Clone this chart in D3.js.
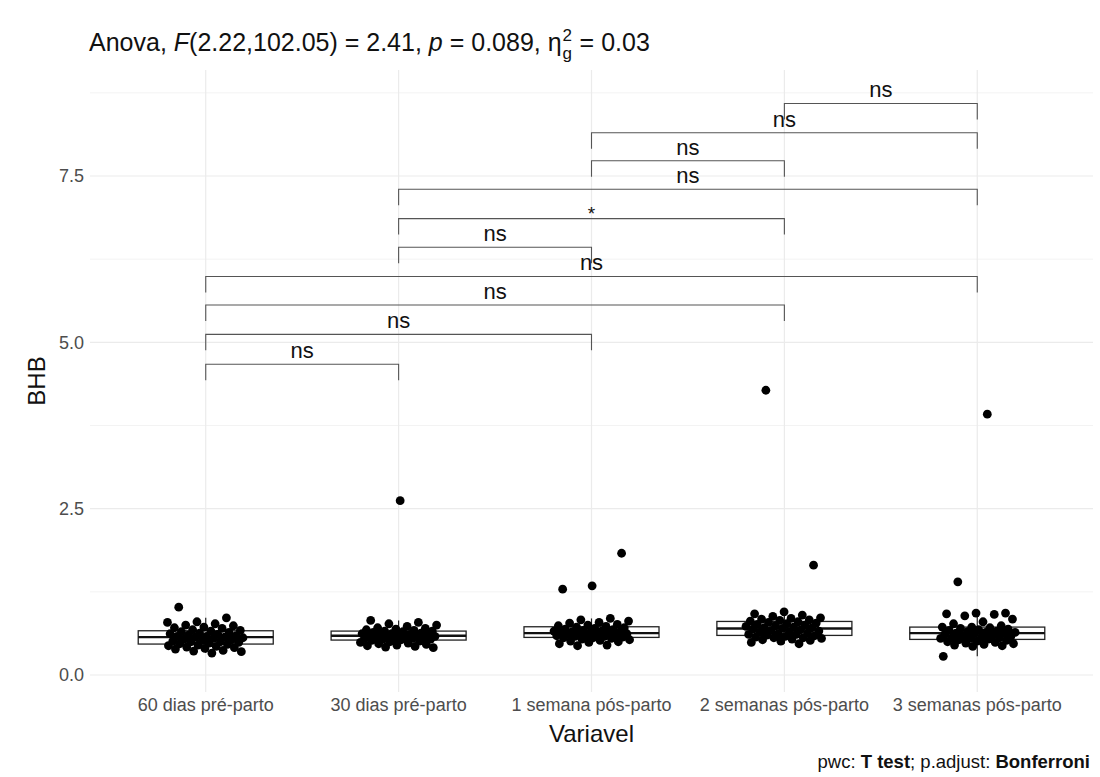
<!DOCTYPE html>
<html>
<head>
<meta charset="utf-8">
<script src="https://cdn.jsdelivr.net/npm/d3@7"></script>
<style>
  html, body { margin: 0; padding: 0; background: #fff; }
  svg { display: block; font-family: "Liberation Sans", Arial, sans-serif; }
</style>
</head>
<body>
<svg id="chart" width="1100" height="777"></svg>
<script>
// Groups (time points) on the x axis
const categories = ["60 dias pré-parto", "30 dias pré-parto", "1 semana pós-parto", "2 semanas pós-parto", "3 semanas pós-parto"];

// BHB measurements per time point
const bhb60dias = [1.02, 0.86, 0.80, 0.79, 0.77, 0.75, 0.74, 0.72, 0.71, 0.70, 0.68, 0.67, 0.66, 0.65, 0.64, 0.63, 0.62, 0.61, 0.60, 0.59, 0.58, 0.58, 0.57, 0.57, 0.56, 0.55, 0.54, 0.53, 0.52, 0.51, 0.50, 0.50, 0.49, 0.48, 0.47, 0.46, 0.45, 0.44, 0.43, 0.42, 0.41, 0.40, 0.39, 0.37, 0.36, 0.35, 0.33];
const bhb30dias = [2.62, 0.82, 0.79, 0.77, 0.75, 0.73, 0.71, 0.70, 0.69, 0.68, 0.67, 0.66, 0.66, 0.65, 0.64, 0.63, 0.62, 0.62, 0.61, 0.61, 0.60, 0.60, 0.59, 0.59, 0.58, 0.58, 0.57, 0.57, 0.56, 0.56, 0.55, 0.55, 0.54, 0.54, 0.53, 0.52, 0.51, 0.50, 0.49, 0.48, 0.47, 0.46, 0.45, 0.44, 0.43, 0.42, 0.41];
const bhb1semana = [1.83, 1.34, 1.29, 0.85, 0.83, 0.81, 0.79, 0.78, 0.76, 0.75, 0.74, 0.73, 0.72, 0.71, 0.70, 0.69, 0.68, 0.67, 0.66, 0.66, 0.65, 0.65, 0.64, 0.63, 0.63, 0.62, 0.62, 0.61, 0.61, 0.60, 0.60, 0.59, 0.58, 0.58, 0.57, 0.56, 0.56, 0.55, 0.54, 0.53, 0.52, 0.51, 0.50, 0.49, 0.47, 0.45, 0.44];
const bhb2semanas = [4.28, 1.65, 0.95, 0.92, 0.90, 0.88, 0.86, 0.85, 0.84, 0.83, 0.82, 0.81, 0.80, 0.79, 0.78, 0.77, 0.76, 0.75, 0.74, 0.73, 0.72, 0.71, 0.71, 0.70, 0.69, 0.68, 0.67, 0.66, 0.65, 0.64, 0.63, 0.62, 0.61, 0.61, 0.60, 0.59, 0.58, 0.57, 0.56, 0.56, 0.55, 0.54, 0.53, 0.52, 0.51, 0.49, 0.47];
const bhb3semanas = [3.92, 1.40, 0.93, 0.93, 0.92, 0.91, 0.89, 0.84, 0.80, 0.77, 0.74, 0.72, 0.72, 0.71, 0.70, 0.69, 0.68, 0.67, 0.66, 0.65, 0.64, 0.64, 0.63, 0.63, 0.62, 0.61, 0.60, 0.59, 0.58, 0.57, 0.56, 0.56, 0.55, 0.55, 0.54, 0.53, 0.52, 0.51, 0.50, 0.49, 0.48, 0.47, 0.46, 0.45, 0.44, 0.43, 0.28];
const seriesValues = [bhb60dias, bhb30dias, bhb1semana, bhb2semanas, bhb3semanas];

// Y axis ticks
const yTicks = [0, 2.5, 5.0, 7.5];
const yTickLabels = ["0.0", "2.5", "5.0", "7.5"];
const yMinorTicks = [1.25, 3.75, 6.25, 8.75];

// Pairwise comparisons (T test, Bonferroni): group indices, bracket height, label
const pairGroup1 = [0, 0, 0, 0, 1, 1, 1, 2, 2, 3];
const pairGroup2 = [1, 2, 3, 4, 2, 3, 4, 3, 4, 4];
const pairYPosition = [4.67, 5.12, 5.56, 5.99, 6.43, 6.86, 7.30, 7.73, 8.15, 8.59];
const pairLabels = ["ns", "ns", "ns", "ns", "ns", "*", "ns", "ns", "ns", "ns"];

const svg = d3.select("#chart");
const panel = { left: 90, right: 1093, top: 70, bottom: 692 };

const x = d3.scalePoint().domain(categories).range([panel.left, panel.right]).padding(0.6);
const step = x.step();
const y = d3.scaleLinear().domain([0, 7.5]).range([675, 176]);

// Grid
const grid = svg.append("g");
grid.selectAll("line.minor").data(yMinorTicks).join("line")
  .attr("x1", panel.left).attr("x2", panel.right)
  .attr("y1", d => y(d)).attr("y2", d => y(d))
  .attr("stroke", "#f3f3f3").attr("stroke-width", 1);
grid.selectAll("line.major").data(yTicks).join("line")
  .attr("x1", panel.left).attr("x2", panel.right)
  .attr("y1", d => y(d)).attr("y2", d => y(d))
  .attr("stroke", "#ebebeb").attr("stroke-width", 1.2);
grid.selectAll("line.vmajor").data(categories).join("line")
  .attr("x1", d => x(d)).attr("x2", d => x(d))
  .attr("y1", panel.top).attr("y2", panel.bottom)
  .attr("stroke", "#ebebeb").attr("stroke-width", 1.2);

// Box plots
const boxW = step * 0.7;
const stats = seriesValues.map((vals, i) => {
  const s = vals.slice().sort(d3.ascending);
  const q1 = d3.quantile(s, 0.25), med = d3.quantile(s, 0.5), q3 = d3.quantile(s, 0.75);
  const iqr = q3 - q1;
  const lo = d3.min(s.filter(v => v >= q1 - 1.5 * iqr));
  const hi = d3.max(s.filter(v => v <= q3 + 1.5 * iqr));
  return { cat: categories[i], q1, med, q3, lo, hi };
});
const boxes = svg.append("g");
boxes.selectAll("line.whisk").data(stats.flatMap(s => [[s, s.q3, s.hi], [s, s.q1, s.lo]])).join("line")
  .attr("x1", d => x(d[0].cat)).attr("x2", d => x(d[0].cat))
  .attr("y1", d => y(d[1])).attr("y2", d => y(d[2]))
  .attr("stroke", "#222").attr("stroke-width", 1.2);
boxes.selectAll("rect").data(stats).join("rect")
  .attr("x", d => x(d.cat) - boxW / 2).attr("width", boxW)
  .attr("y", d => y(d.q3)).attr("height", d => y(d.q1) - y(d.q3))
  .attr("fill", "#fff").attr("stroke", "#222").attr("stroke-width", 1.3);
boxes.selectAll("line.med").data(stats).join("line")
  .attr("x1", d => x(d.cat) - boxW / 2).attr("x2", d => x(d.cat) + boxW / 2)
  .attr("y1", d => y(d.med)).attr("y2", d => y(d.med))
  .attr("stroke", "#111").attr("stroke-width", 2.4);

// Jittered points (deterministic horizontal jitter, width 0.2)
const points = seriesValues.flatMap((vals, gi) => vals.map((v, i) => {
  const f = ((i * 0.6180339887 + gi * 0.37 + 0.15) % 1) - 0.5;
  return { cat: categories[gi], v, dx: f * 2 * 0.2 * step };
}));
svg.append("g").selectAll("circle").data(points).join("circle")
  .attr("cx", d => x(d.cat) + d.dx).attr("cy", d => y(d.v))
  .attr("r", 4.4).attr("fill", "#000");

// Comparison brackets
const tip = 0.24;
const br = svg.append("g");
pairLabels.forEach((lab, k) => {
  const x1 = x(categories[pairGroup1[k]]), x2 = x(categories[pairGroup2[k]]);
  const yy = y(pairYPosition[k]), yt = y(pairYPosition[k] - tip);
  br.append("path")
    .attr("d", `M${x1},${yt}V${yy}H${x2}V${yt}`)
    .attr("fill", "none").attr("stroke", "#555").attr("stroke-width", 1.1);
  br.append("text")
    .attr("x", (x1 + x2) / 2).attr("y", lab === "*" ? yy + 1 : yy - 6)
    .attr("text-anchor", "middle").attr("font-size", lab === "*" ? 19 : 22).attr("fill", "#111")
    .text(lab);
});

// Axes text
svg.append("g").selectAll("text").data(yTicks).join("text")
  .attr("x", 84).attr("y", d => y(d)).attr("dy", "0.35em")
  .attr("text-anchor", "end").attr("font-size", 18).attr("fill", "#4d4d4d")
  .text((d, i) => yTickLabels[i]);
svg.append("g").selectAll("text").data(categories).join("text")
  .attr("x", d => x(d)).attr("y", 711)
  .attr("text-anchor", "middle").attr("font-size", 18).attr("fill", "#4d4d4d")
  .text(d => d);
svg.append("text")
  .attr("x", (panel.left + panel.right) / 2).attr("y", 742)
  .attr("text-anchor", "middle").attr("font-size", 24).attr("fill", "#111")
  .text("Variavel");
svg.append("text")
  .attr("transform", `translate(45,${(panel.top + panel.bottom) / 2}) rotate(-90)`)
  .attr("text-anchor", "middle").attr("font-size", 24).attr("fill", "#111")
  .text("BHB");

// Title with italic symbols and eta with sub/superscript
const titleX = 89, titleY = 51, titleSize = 25;
const title = svg.append("text").attr("x", titleX).attr("y", titleY)
  .attr("font-size", titleSize).attr("fill", "#111");
title.append("tspan").text("Anova, ");
title.append("tspan").attr("font-style", "italic").text("F");
title.append("tspan").text("(2.22,102.05) = 2.41, ");
title.append("tspan").attr("font-style", "italic").text("p");
title.append("tspan").text(" = 0.089, η");
const tx = titleX + title.node().getComputedTextLength() + 1;
svg.append("text").attr("x", tx).attr("y", titleY - 10).attr("font-size", 17).attr("fill", "#111").text("2");
svg.append("text").attr("x", tx).attr("y", titleY + 8).attr("font-size", 17).attr("fill", "#111").text("g");
svg.append("text").attr("x", tx + 17).attr("y", titleY).attr("font-size", titleSize).attr("fill", "#111").text("= 0.03");

// Caption
const cap = svg.append("text").attr("x", 1090).attr("y", 768)
  .attr("text-anchor", "end").attr("font-size", 18.5).attr("fill", "#111");
cap.append("tspan").text("pwc: ");
cap.append("tspan").attr("font-weight", "bold").text("T test");
cap.append("tspan").text("; p.adjust: ");
cap.append("tspan").attr("font-weight", "bold").text("Bonferroni");
</script>
</body>
</html>
